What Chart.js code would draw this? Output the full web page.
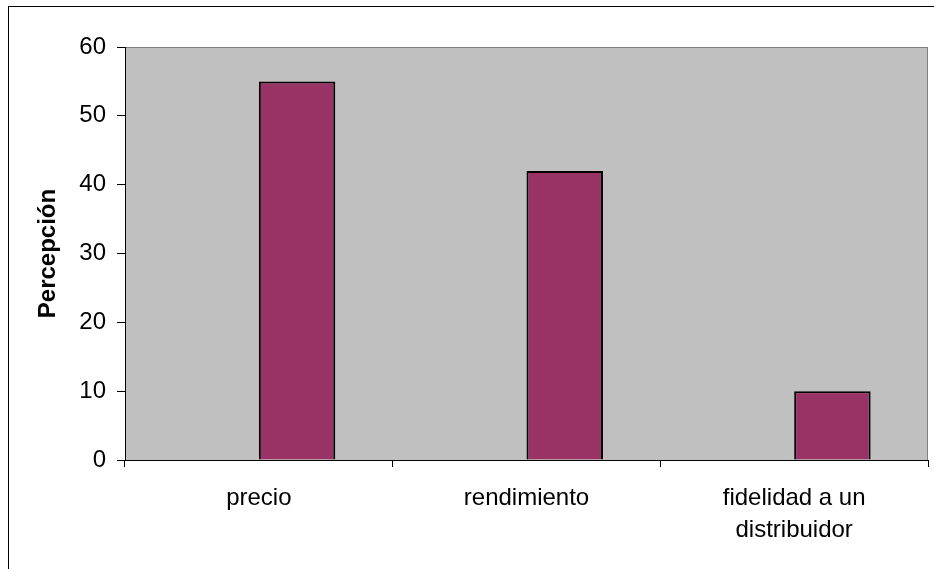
<!DOCTYPE html>
<html>
<head>
<meta charset="utf-8">
<script src="https://cdn.jsdelivr.net/npm/chart.js@4/dist/chart.umd.min.js"></script>
<style>
  html, body { margin: 0; padding: 0; background: #ffffff; }
  canvas { display: block; }
</style>
</head>
<body>
<canvas id="c" width="934" height="569"></canvas>
<script>
// Categories and values of the chart
const categories = ['precio', 'rendimiento', ['fidelidad a un', 'distribuidor']];
const emptySeries = [null, null, null];
const percepcion = [55, 42, 10];
const yTicks = [0, 10, 20, 30, 40, 50, 60];

const FONT = "'Liberation Sans', Arial, sans-serif";

// Gray plot area, its border and the outer frame of the chart
const frame = {
  id: 'frame',
  beforeDraw(chart) {
    const { ctx, chartArea: a } = chart;
    ctx.save();
    ctx.fillStyle = '#ffffff';
    ctx.fillRect(0, 0, chart.width, chart.height);
    ctx.fillStyle = '#c0c0c0';
    ctx.fillRect(a.left, a.top, a.right - a.left, a.bottom - a.top);
    ctx.strokeStyle = '#808080';
    ctx.lineWidth = 1;
    ctx.strokeRect(a.left + 0.5, a.top + 0.5, a.right - a.left - 1, a.bottom - a.top);
    ctx.strokeStyle = '#000000';
    ctx.lineWidth = 1;
    ctx.strokeRect(8.5, 6.5, chart.width + 50, chart.height + 50);
    ctx.restore();
  }
};

new Chart(document.getElementById('c'), {
  type: 'bar',
  data: {
    labels: categories,
    datasets: [
      { label: '', data: emptySeries, backgroundColor: '#993366' },
      {
        label: 'Percepción',
        data: percepcion,
        backgroundColor: '#993366',
        borderColor: '#000000',
        borderWidth: 2
      }
    ]
  },
  options: {
    responsive: false,
    animation: false,
    events: [],
    layout: { padding: { left: 0, top: 47, right: 6, bottom: 0 } },
    datasets: { bar: { categoryPercentage: 2 / 3.5, barPercentage: 1 } },
    plugins: { legend: { display: false }, tooltip: { enabled: false } },
    scales: {
      x: {
        afterFit(s) { s.height = 109; },
        grid: { offset: true, drawOnChartArea: false, drawTicks: true, tickLength: 7, color: '#000000' },
        border: { color: '#000000', width: 1 },
        ticks: {
          color: '#000000',
          padding: 15,
          maxRotation: 0,
          autoSkip: false,
          font: { family: FONT, size: 24, lineHeight: 1.33 }
        }
      },
      y: {
        min: 0,
        max: 60,
        afterFit(s) { s.width = 125; },
        afterBuildTicks(s) { s.ticks = yTicks.map(v => ({ value: v })); },
        grid: { drawOnChartArea: false, drawTicks: true, tickLength: 8, color: '#000000' },
        border: { color: '#000000', width: 1 },
        ticks: {
          color: '#000000',
          padding: 11,
          font: { family: FONT, size: 24 }
        },
        title: {
          display: true,
          text: 'Percepción',
          color: '#000000',
          padding: { top: 33.5, bottom: 0 },
          font: { family: FONT, size: 24, weight: 'bold' }
        }
      }
    }
  },
  plugins: [frame]
});
</script>
</body>
</html>
